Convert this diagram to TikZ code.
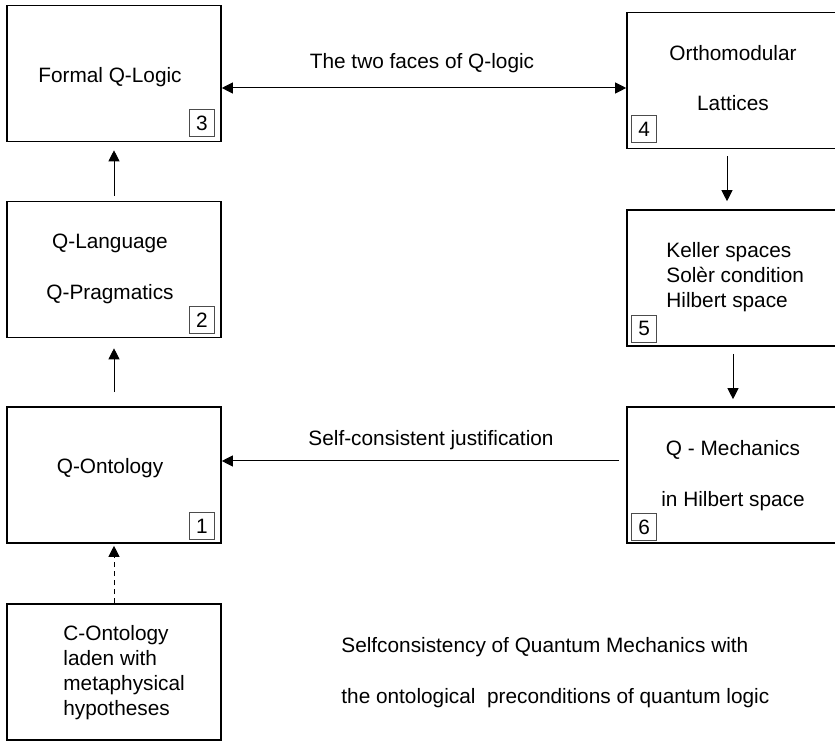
\documentclass[tikz,border=0pt]{standalone}
\usepackage{fontspec}
\setmainfont{Liberation Sans}
\usepackage{tikz}
\usetikzlibrary{arrows.meta,calc}
\tikzset{
  box/.style={draw, line width=0.8pt, minimum width=107pt, minimum height=68pt, inner sep=0pt},
  rbox/.style={box, minimum width=106pt},
  numbox/.style={draw=black!70, line width=0.4pt, minimum width=12.5pt, minimum height=13.5pt, inner sep=0pt},
  txt/.style={align=center, inner sep=0pt},
  flow/.style={->, line width=0.5pt},
  >={Triangle[length=5.5pt,width=5.5pt]},
  }

\begin{document}
\begin{tikzpicture}[x=0.5pt, y=-0.5pt, font=\fontsize{10.4}{12.5}\selectfont]
            \clip (0,0) rectangle (835,742);

            % Left column
            \node[box] (q3) at (114,73.5) {};
            \node[box] (q2) at (114,269.5) {};
            \node[box] (q1) at (114,475) {};
            \node[box] (qc) at (114,672) {};
            % Right column
            \node[rbox] (q4) at (733,80.5) {};
            \node[rbox] (q5) at (733,278) {};
            \node[rbox] (q6) at (733,475) {};

            % Texts
            \node[txt] (t3) at (110,77) {Formal Q-Logic};
            \node[txt] (t2) at (110,268.5) {Q-Language\\[13pt]Q-Pragmatics};
            \node[txt] (t1) at (110,468) {Q-Ontology};
            \node[txt, align=left, anchor=west] (tc) at (63,673) {C-Ontology\\laden with\\metaphysical\\hypotheses};
            \node[txt] (t4) at (733,78) {Orthomodular\\[12.5pt]Lattices};
            \node[txt, align=left, anchor=west] (t5) at (666,277) {Keller spaces\\Solèr condition\\Hilbert space};
            \node[txt] (t6) at (733,475.5) {Q - Mechanics\\[13pt]in Hilbert space};

            % Numbers
            \node[numbox, anchor=south east] (n3) at ($(q3.south east)+(-7,-5)$) {3};
            \node[numbox, anchor=south east] (n2) at ($(q2.south east)+(-7,-4)$) {2};
            \node[numbox, anchor=south east] (n1) at ($(q1.south east)+(-7,-4)$) {1};
            \node[numbox, anchor=south west] (n4) at ($(q4.south west)+(5,-6)$) {4};
            \node[numbox, anchor=south west] (n5) at ($(q5.south west)+(5,-4)$) {5};
            \node[numbox, anchor=south west] (n6) at ($(q6.south west)+(5,-3)$) {6};

            % Free texts
            \node[txt] (faces) at (422,63) {The two faces of Q-logic};
            \node[txt] (just) at (431,440) {Self-consistent justification};
            \node[txt, align=left, anchor=west] (self) at (341,672.5) {Selfconsistency of Quantum Mechanics with\\[13pt]the ontological\ \ preconditions of quantum logic};

            % Arrows
            \draw[flow, <->] ($(q3.east)+(0,14.5)$) -- ($(q3.east -| q4.west)+(0,14.5)$);
            \draw[flow, shorten <=2.5pt, shorten >=4pt] (q2.north) -- (q3.south);
            \draw[flow, shorten <=7pt, shorten >=5pt] (q1.north) -- (q2.south);
            \draw[flow, dash pattern=on 2.5pt off 2pt, shorten >=1pt] (qc.north) -- (q1.south);
            \draw[flow, shorten <=3.5pt, shorten >=4pt] ($(q4.south)+(-6,0)$) -- ($(q5.north)+(-6,0)$);
            \draw[flow, shorten <=3.5pt, shorten >=3.5pt] (q5.south) -- (q6.north);
            \draw[flow, shorten <=3.5pt] ($(q6.west)+(0,-14)$) -- ($(q1.east)+(0,-14)$);
\end{tikzpicture}
\end{document}
